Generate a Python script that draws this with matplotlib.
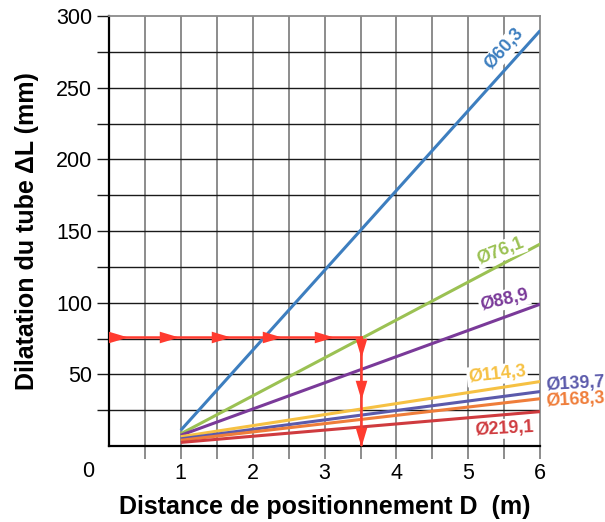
import matplotlib
matplotlib.use("Agg")
import matplotlib.pyplot as plt

plt.rcParams["font.family"] = ["Liberation Sans", "DejaVu Sans"]

# tube diameters and their dilatation at D = 1 m and D = 6 m
labels = ["Ø60,3", "Ø76,1", "Ø88,9", "Ø114,3", "Ø139,7", "Ø168,3", "Ø219,1"]
colors = ["#3d7ebf", "#9bc153", "#7a3a99", "#f6c143", "#5b5aab", "#ef7d3a", "#cf3b3f"]
d_start = [1, 1, 1, 1, 1, 1, 1]
d_end = [6, 6, 6, 6, 6, 6, 6]
dl_start = [11, 8.5, 7.5, 6.5, 5, 4, 2.5]
dl_end = [290, 141, 99, 45, 38, 33, 24]

# label placement (x, y, rotation, ha)
label_pos = [
    (5.5, 277, 48, "center"),
    (5.45, 136, 21, "center"),
    (5.5, 102, 13, "center"),
    (5.4, 50, 6, "center"),
    (6.08, 42.5, 3, "left"),
    (6.08, 31, 3, "left"),
    (5.5, 12, 3, "center"),
]

# reading example: D = 3.5 m -> dL = 76 mm
read_d = 3.5
read_dl = 76
h_heads = [0.13, 0.84, 1.56, 2.27, 2.99]
v_heads = [68.5, 39, 6]

RED = "#ff3b2f"
right_head = [(-1, -0.6), (1, 0), (-1, 0.6), (-1, -0.6)]
down_head = [(-0.6, 1), (0, -1), (0.6, 1), (-0.6, 1)]

fig = plt.figure(figsize=(6.05, 5.22), dpi=100)
ax = fig.add_axes([0.180, 0.1456, 0.713, 0.8234])

ax.set_xlim(0, 6)
ax.set_ylim(0, 300)

for i in range(1, 12):
    ax.axvline(i * 0.5, color="#6e6e6e", lw=1.1, zorder=1)
for i in range(1, 12):
    ax.axhline(i * 25, color="#1a1a1a", lw=1.0, zorder=1)

for lab, c, x0, x1, y0, y1 in zip(labels, colors, d_start, d_end, dl_start, dl_end):
    ax.plot([x0, x1], [y0, y1], color=c, lw=2.2, zorder=3, solid_capstyle="butt")

for lab, c, (x, y, rot, ha) in zip(labels, colors, label_pos):
    bbox = None
    if ha == "center":
        bbox = dict(facecolor="white", edgecolor="none", pad=1.0)
    ax.text(x, y, lab, color=c, fontsize=13, fontweight="bold", rotation=rot,
            ha=ha, va="center", rotation_mode="anchor", bbox=bbox, zorder=4,
            clip_on=False)

# reading arrows
ax.plot([0, read_d], [read_dl, read_dl], color=RED, lw=1.8, zorder=5)
ax.plot([read_d, read_d], [read_dl, 0], color=RED, lw=1.8, zorder=5)
ax.plot(h_heads, [read_dl] * len(h_heads), ls="none", marker=right_head, ms=14,
        color=RED, mew=0, zorder=6)
ax.plot([read_d] * len(v_heads), v_heads, ls="none", marker=down_head, ms=14,
        color=RED, mew=0, zorder=6, clip_on=False)

# ticks
ax.set_xticks([i * 0.5 for i in range(1, 13)])
ax.set_xticklabels(["" if i % 2 else str(i // 2) for i in range(1, 13)])
ax.set_yticks([i * 25 for i in range(1, 13)])
ax.set_yticklabels(["" if i % 2 else str(i * 25) for i in range(1, 13)])
ax.tick_params(axis="x", length=9, width=1.1, color="#6e6e6e", labelsize=15.5, pad=3)
ax.tick_params(axis="y", length=9, width=1.0, color="#1a1a1a", labelsize=15.5, pad=3)
ax.text(-0.29, -0.06, "0", transform=ax.get_xaxis_transform(), fontsize=15.5,
        ha="center", va="center")

for s in ("left", "bottom"):
    ax.spines[s].set_color("black")
    ax.spines[s].set_linewidth(1.6)
for s in ("top", "right"):
    ax.spines[s].set_color("#8a8a8a")
    ax.spines[s].set_linewidth(1.3)

ax.set_xlabel("Distance de positionnement D  (m)", fontsize=18, fontweight="bold")
ax.set_ylabel("Dilatation du tube ΔL (mm)", fontsize=18, fontweight="bold")
ax.xaxis.set_label_coords(0.5, -0.142)
ax.xaxis.label.set_va("center")
ax.yaxis.set_label_coords(-0.19, 0.5)
ax.yaxis.label.set_va("center")

fig.savefig("out.png", dpi=100)
